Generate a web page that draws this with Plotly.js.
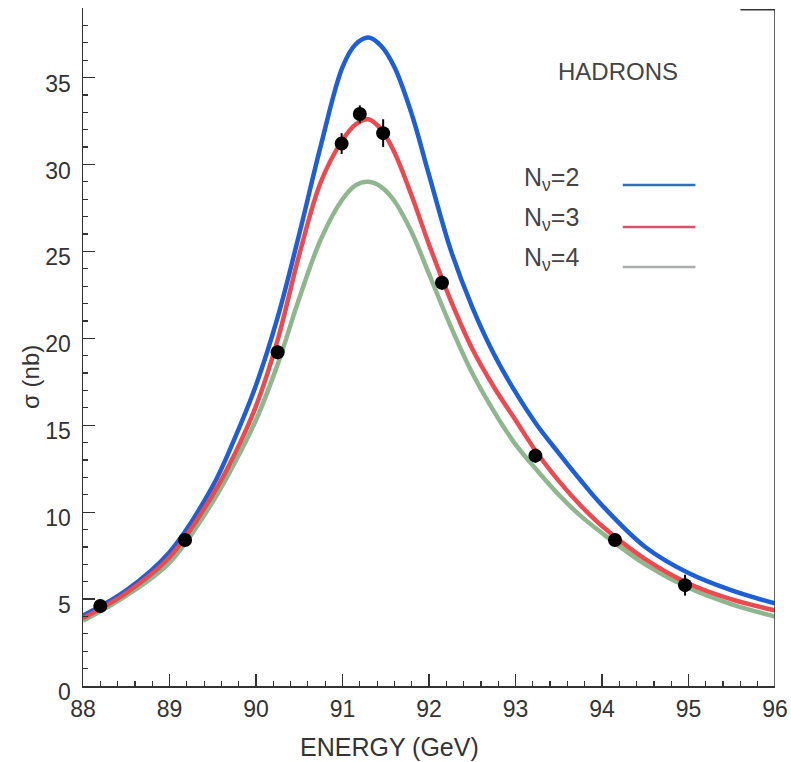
<!DOCTYPE html>
<html>
<head>
<meta charset="utf-8">
<script src="https://cdn.plot.ly/plotly-3.0.1.min.js"></script>
<style>html,body{margin:0;padding:0;background:#fff;}#chart{width:791px;height:762px;}</style>
</head>
<body>
<div id="chart"></div>
<script>
const energy = [88, 88.5, 89, 89.5, 89.75, 90, 90.25, 90.5, 90.75, 91, 91.15, 91.3, 91.45, 91.6, 91.8, 92, 92.25, 92.5, 92.75, 93, 93.25, 93.5, 93.75, 94, 94.5, 95, 95.5, 96];
// Cross sections (nb) for N_nu = 2, 3, 4
const sigmaN2 = [4.05, 5.5, 7.7, 11.5, 14.2, 17.3, 21.2, 26.0, 31.1, 35.6, 36.9, 37.3, 36.8, 35.6, 32.9, 29.4, 25.1, 21.8, 19.1, 16.9, 15.0, 13.4, 11.85, 10.4, 8.0, 6.5, 5.5, 4.75];
const sigmaN3 = [3.9, 5.35, 7.4, 11.0, 13.3, 16.1, 19.9, 24.8, 29.0, 31.4, 32.3, 32.6, 32.0, 30.7, 28.2, 25.4, 22.2, 19.4, 17.2, 15.3, 13.4, 11.8, 10.4, 9.2, 7.3, 5.9, 4.98, 4.35];
const sigmaN4 = [3.75, 5.2, 7.1, 10.6, 12.8, 15.3, 18.5, 22.3, 25.7, 28.0, 28.8, 29.0, 28.7, 27.9, 26.1, 23.7, 20.7, 18.0, 15.8, 13.9, 12.4, 11.0, 9.8, 8.8, 7.0, 5.65, 4.7, 4.0];
// Measured hadron cross sections
const dataE = [88.2, 89.18, 90.25, 90.99, 91.2, 91.47, 92.15, 93.23, 94.15, 94.96];
const dataSigma = [4.6, 8.4, 19.2, 31.2, 32.9, 31.8, 23.2, 13.25, 8.4, 5.8];
const dataErr = [0.3, 0.3, 0.4, 0.6, 0.5, 0.8, 0.4, 0.4, 0.35, 0.6];
// Tick labels
const xTicks = [88, 89, 90, 91, 92, 93, 94, 95, 96];
const yTicks = [0, 5, 10, 15, 20, 25, 30, 35];
const legendLabels = ['N<sub>ν</sub>=2', 'N<sub>ν</sub>=3', 'N<sub>ν</sub>=4'];

const colBlue = '#1e5fd6', colRed = '#ec4a50', colGreen = '#8fb68f';
const legendCols = ['#3170b4', '#d4566a', '#a9ada9'];

const traces = [
  {x: energy, y: sigmaN4, mode: 'lines', line: {color: colGreen, width: 4.5, shape: 'spline', smoothing: 1}, hoverinfo: 'skip'},
  {x: energy, y: sigmaN2, mode: 'lines', line: {color: colBlue, width: 4.5, shape: 'spline', smoothing: 1}, hoverinfo: 'skip'},
  {x: energy, y: sigmaN3, mode: 'lines', line: {color: colRed, width: 4.5, shape: 'spline', smoothing: 1}, hoverinfo: 'skip'},
  {x: dataE, y: dataSigma, mode: 'markers', marker: {color: '#000', size: 14},
   error_y: {type: 'data', array: dataErr, visible: true, color: '#000', thickness: 2, width: 0}}
];

const fontFam = 'Liberation Sans, Arial, Helvetica, sans-serif';
const annotations = [
  {xref: 'paper', yref: 'paper', x: 0.773, y: 0.906, text: 'HADRONS', showarrow: false,
   font: {family: fontFam, size: 24, color: '#444'}, xanchor: 'center', yanchor: 'middle'},
  {xref: 'paper', yref: 'paper', x: -0.075, y: 0.456, text: 'σ (nb)', textangle: -90, showarrow: false,
   font: {family: fontFam, size: 24, color: '#333'}, xanchor: 'center', yanchor: 'middle'},
  {xref: 'paper', yref: 'paper', x: 0.443, y: -0.090, text: 'ENERGY (GeV)', showarrow: false,
   font: {family: fontFam, size: 25, color: '#333'}, xanchor: 'center', yanchor: 'middle'}
];
const legendTextY = [0.748, 0.689, 0.630];
const legendLineY = [0.739, 0.677, 0.618];
const shapes = [
  {type: 'line', xref: 'x', yref: 'y', x0: 96, x1: 96, y0: 0, y1: 38.9, line: {color: '#333', width: 1.5}},
  {type: 'line', xref: 'x', yref: 'y', x0: 95.6, x1: 96, y0: 38.9, y1: 38.9, line: {color: '#333', width: 1.5}}
];
legendLabels.forEach((t, i) => {
  annotations.push({xref: 'paper', yref: 'paper', x: 0.635, y: legendTextY[i], text: t, showarrow: false,
    font: {family: fontFam, size: 25, color: '#444'}, xanchor: 'left', yanchor: 'middle'});
  shapes.push({type: 'line', xref: 'paper', yref: 'paper', x0: 0.780, x1: 0.885, y0: legendLineY[i], y1: legendLineY[i],
    line: {color: legendCols[i], width: 2.5}});
});

const layout = {
  width: 791, height: 762,
  margin: {l: 83, r: 16, t: 8, b: 76},
  paper_bgcolor: '#fff', plot_bgcolor: '#fff',
  showlegend: false,
  font: {family: fontFam, color: '#333'},
  xaxis: {
    range: [88, 96], tickvals: xTicks, ticktext: xTicks.map(String),
    showgrid: false, zeroline: false, showline: true, linecolor: '#333', linewidth: 1.5,
    ticks: 'inside', ticklen: 12, tickwidth: 1.3, tickcolor: '#333',
    tickfont: {size: 23, color: '#333'}, ticklabelstandoff: 2,
    minor: {dtick: 0.2, ticks: 'inside', ticklen: 5, tickcolor: '#333', tickwidth: 1.2, showgrid: false}
  },
  yaxis: {
    range: [0, 39], tickvals: yTicks, ticktext: yTicks.map(String),
    showgrid: false, zeroline: false, showline: true, linecolor: '#333', linewidth: 1.5,
    ticks: 'inside', ticklen: 12, tickwidth: 1.3, tickcolor: '#333',
    tickfont: {size: 23, color: '#333'}, ticklabelshift: 6, ticklabelstandoff: 6,
    minor: {dtick: 1, ticks: 'inside', ticklen: 5, tickcolor: '#333', tickwidth: 1.2, showgrid: false}
  },
  annotations: annotations,
  shapes: shapes
};

Plotly.newPlot('chart', traces, layout, {staticPlot: true, displayModeBar: false});
</script>
</body>
</html>
